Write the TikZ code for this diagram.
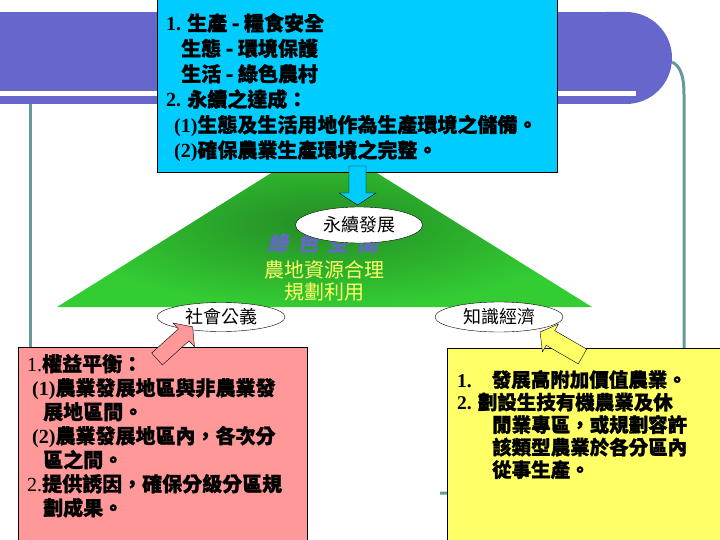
\documentclass[tikz,border=0pt]{standalone}
\usepackage{fontspec}
\setmainfont{Liberation Serif}
\newfontfamily\cjk{Noto Sans CJK TC}[BoldFeatures={FakeBold=1.2}]
\newfontfamily\cjkslant{Noto Sans CJK TC}[FakeSlant=0.25]
\usetikzlibrary{shapes.geometric}
\definecolor{slidepurple}{RGB}{102,102,204}
\definecolor{slideteal}{RGB}{102,153,153}
\definecolor{goalcyan}{RGB}{0,204,255}
\definecolor{notepink}{RGB}{255,153,153}
\definecolor{noteyellow}{RGB}{255,255,102}
\definecolor{fieldgreen}{RGB}{51,204,51}
\definecolor{fielddark}{RGB}{36,140,36}
\newcommand{\nm}[1]{{\rmfamily #1}}
\newcommand{\nr}[1]{{\rmfamily\mdseries #1}}

\begin{document}
\begin{tikzpicture}[x=1pt, y=-1pt, every node/.style={inner sep=0pt},
note/.style={draw, thin, anchor=north west},
txt/.style={anchor=north west, align=left},
oval/.style={draw, ellipse, fill=white, minimum width=128pt, minimum height=30pt,
  font=\cjk\fontsize{18}{18}\selectfont},
blockarrow/.style={draw, thin}]
\useasboundingbox (0,0) rectangle (720,540);
%================================================================
%	Slide background
\draw[slideteal, line width=3pt] (30,104) -- (30,360);
\draw[slideteal, line width=3pt] (440,493) -- (684,493) -- (684,95)
  .. controls (684,75) and (680,66) .. (672,62);
\fill[slidepurple] (0,12) rectangle (620,104);
\fill[slidepurple, rounded corners=46pt] (560,12) rectangle (672,104);
\fill[white] (0,91) rectangle (636,96);

%================================================================
%	Triangle
\shade[inner color=fielddark, outer color=fieldgreen] (324,140) -- (592,307) -- (57,307) -- cycle;

\node[font=\cjkslant\bfseries\fontsize{21}{21}\selectfont, text=slidepurple] (green) at (323,243)
  {綠\hspace{9pt}色\hspace{9pt}空\hspace{9pt}間};
\node[font=\cjk\fontsize{20}{22}\selectfont, text=noteyellow, align=center] (landuse) at (324,281)
  {農地資源合理\\規劃利用};

%================================================================
%	Boxes
\node[note, fill=goalcyan, minimum width=400pt, minimum height=173pt] (goal) at (157,-1) {};
\node[note, fill=notepink, minimum width=289pt, minimum height=200pt] (pinkbox) at (18,347) {};
\node[note, fill=noteyellow, minimum width=280pt, minimum height=200pt] (yellowbox) at (447,348) {};

%----------------------------------------------------------------
\node[txt, font=\cjk\bfseries\fontsize{20}{25.4}\selectfont] (goaltxt) at (166,13)
  {\nm{1.} 生產 - 糧食安全\\
   \hspace*{15pt}生態 - 環境保護\\
   \hspace*{15pt}生活 - 綠色農村\\
   \nm{2.} 永續之達成：\\
   \hspace*{8pt}\nm{(1)}生態及生活用地作為生產環境之儲備。\\
   \hspace*{8pt}\nm{(2)}確保農業生產環境之完整。};

\node[txt, font=\cjk\bfseries\fontsize{20}{24}\selectfont] (pinktxt) at (27,354)
  {\nr{1.}權益平衡：\\
   \hspace*{5pt}\nm{(1)}農業發展地區與非農業發\\
   \hspace*{16pt}展地區間。\\
   \hspace*{5pt}\nm{(2)}農業發展地區內，各次分\\
   \hspace*{16pt}區之間。\\
   \nr{2.}提供誘因，確保分級分區規\\
   \hspace*{16pt}劃成果。};

\node[txt, font=\cjk\bfseries\fontsize{19.5}{22.5}\selectfont] (yellowtxt) at (457,370)
  {\nm{1.}\hspace{20pt}發展高附加價值農業。\\
   \nm{2.} 劃設生技有機農業及休\\
   \hspace*{35pt}閒業專區，或規劃容許\\
   \hspace*{35pt}該類型農業於各分區內\\
   \hspace*{35pt}從事生產。};

%================================================================
%	Ovals
\node[oval, minimum width=127pt, minimum height=36pt] (sustain) at (359,225) {永續發展};
\node[oval, minimum height=29pt] (justice) at (221,317) {社會公義};
\node[oval] (economy) at (499,317) {知識經濟};

%================================================================
%	Arrows
\draw[blockarrow, fill=goalcyan, shift={(357.5,166)}, rotate=-90]
  (0,-8.5) -- (27,-8.5) -- (27,-18.5) -- (39,0) -- (27,18.5) -- (27,8.5) -- (0,8.5) -- cycle;
\draw[blockarrow, fill=notepink, shift={(157,359)}, rotate=42]
  (0,-8) -- (36,-8) -- (36,-16) -- (48,0) -- (36,16) -- (36,8) -- (0,8) -- cycle;
\draw[blockarrow, fill=noteyellow, shift={(582.5,356.5)}, rotate=150]
  (0,-8.5) -- (37,-8.5) -- (37,-16) -- (49,0) -- (37,16) -- (37,8.5) -- (0,8.5) -- cycle;
%================================================================
\end{tikzpicture}
\end{document}
